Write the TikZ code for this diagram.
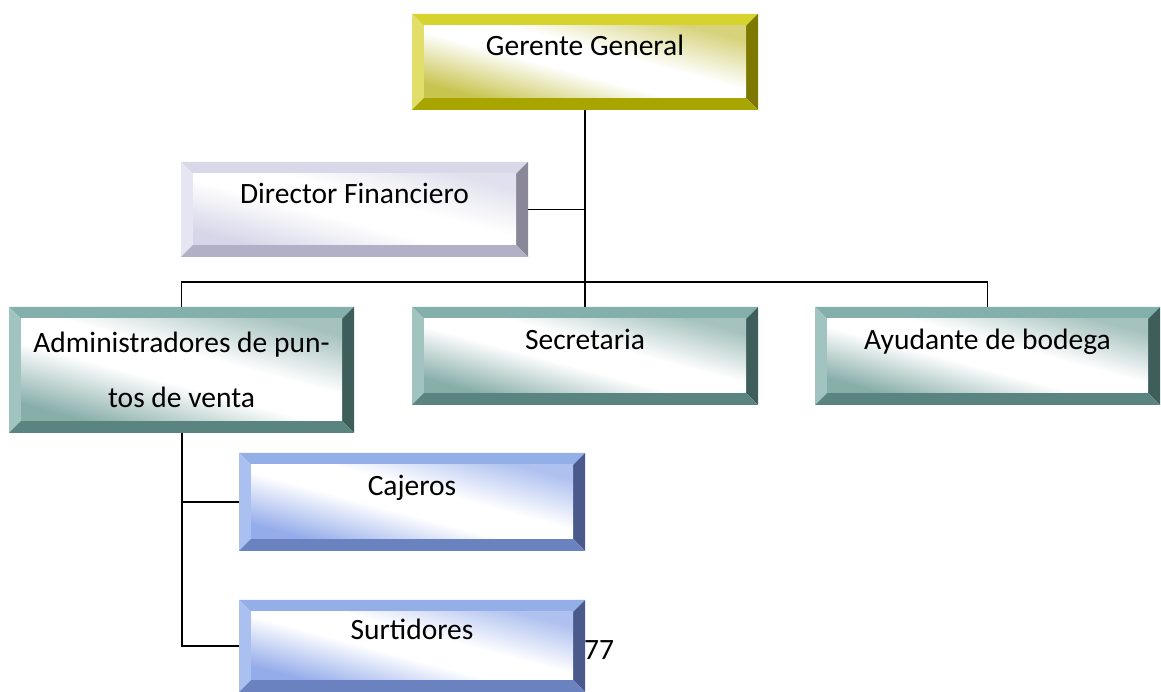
\documentclass[tikz,border=0pt]{standalone}
\usepackage{fontspec}
\setmainfont{Carlito}
\usetikzlibrary{positioning}

% bevel colours: top, left, right, bottom, face tint
\definecolor{goldT}{HTML}{D6D22E}
\definecolor{goldL}{HTML}{E2DE6A}
\definecolor{goldR}{HTML}{7C7800}
\definecolor{goldB}{HTML}{A9A500}
\definecolor{goldF}{HTML}{C8C450}
\definecolor{lilaT}{HTML}{D8D8E8}
\definecolor{lilaL}{HTML}{E6E6F2}
\definecolor{lilaR}{HTML}{8A8898}
\definecolor{lilaB}{HTML}{B2B0C6}
\definecolor{lilaF}{HTML}{D6D6E8}
\definecolor{tealT}{HTML}{84B0AC}
\definecolor{tealL}{HTML}{A2C4C0}
\definecolor{tealR}{HTML}{3E5E5C}
\definecolor{tealB}{HTML}{5A8480}
\definecolor{tealF}{HTML}{88AEAA}
\definecolor{blueT}{HTML}{94AEE8}
\definecolor{blueL}{HTML}{AAC0F0}
\definecolor{blueR}{HTML}{4A5A8C}
\definecolor{blueB}{HTML}{6A82C0}
\definecolor{blueF}{HTML}{94ACEA}

\colorlet{facetint}{white}
\pgfdeclareverticalshading[facetint]{bevelface}{100bp}{%
  color(0bp)=(facetint); color(25bp)=(facetint); color(45bp)=(white);
  color(56bp)=(white); color(75bp)=(facetint!75!white); color(100bp)=(facetint!75!white)}

\def\pb{path picture bounding box}
\def\bev{12pt}

\tikzset{
  bevelbox/.style n args={5}{
    inner sep=0pt, align=center,
    path picture={
      \fill[#1] (\pb.north west) -- (\pb.north east) -- ([shift={(-\bev,-\bev)}]\pb.north east) -- ([shift={(\bev,-\bev)}]\pb.north west) -- cycle;
      \fill[#2] (\pb.north west) -- ([shift={(\bev,-\bev)}]\pb.north west) -- ([shift={(\bev,\bev)}]\pb.south west) -- (\pb.south west) -- cycle;
      \fill[#3] (\pb.north east) -- ([shift={(-\bev,-\bev)}]\pb.north east) -- ([shift={(-\bev,\bev)}]\pb.south east) -- (\pb.south east) -- cycle;
      \fill[#4] (\pb.south west) -- ([shift={(\bev,\bev)}]\pb.south west) -- ([shift={(-\bev,\bev)}]\pb.south east) -- (\pb.south east) -- cycle;
      \colorlet{facetint}{#5}
      \shade[shading=bevelface, shading angle=-15]
        ([shift={(\bev,-\bev)}]\pb.north west) rectangle ([shift={(-\bev,\bev)}]\pb.south east);
    }
  },
  goldbox/.style={bevelbox={goldT}{goldL}{goldR}{goldB}{goldF}},
  lilabox/.style={bevelbox={lilaT}{lilaL}{lilaR}{lilaB}{lilaF}},
  tealbox/.style={bevelbox={tealT}{tealL}{tealR}{tealB}{tealF}},
  bluebox/.style={bevelbox={blueT}{blueL}{blueR}{blueB}{blueF}},
  onerow/.style={text height=20pt, text depth=32pt},
  link/.style={line width=1.5pt},
  trunk/.style={line width=2pt}
}

\begin{document}
\begin{tikzpicture}[x=1pt, y=1pt, font=\fontsize{29.5}{35}\selectfont]
    \useasboundingbox (0,0) rectangle (1161,692);

    % Top levels
    \node[goldbox, onerow, minimum width=346pt, minimum height=96pt] (gerente) at (585,630) {Gerente General};
    \node[lilabox, onerow, minimum width=347pt, minimum height=95pt] (director) at (354.5,482.5) {Director Financiero};

    % Second row
    \node[tealbox, minimum width=345pt, minimum height=126pt, font=\fontsize{29.5}{55}\selectfont] (admin) at (181.5,322) {Administradores de pun-\\tos de venta};
    \node[tealbox, onerow, minimum width=346pt, minimum height=98pt] (secretaria) at (585,336) {Secretaria};
    \node[tealbox, onerow, minimum width=345pt, minimum height=98pt] (ayudante) at (987.5,336) {Ayudante de bodega};

    % Under the points of sale
    \node[bluebox, onerow, minimum width=346pt, minimum height=98pt] (cajeros) at (412,190) {Cajeros};
    \node[bluebox, onerow, minimum width=346pt, minimum height=92pt] (surtidores) at (412,46) {Surtidores};

    \node (pagenum) at (599,42) {77};

    % Connections
    \coordinate (bus) at (585,410);
    \draw[trunk] (gerente.south) -- (secretaria.north);
    \draw[link] (director.east) -- (director.east -| gerente.south);
    \draw[link] (admin.north) |- (bus) -| (ayudante.north);
    \draw[trunk] (admin.south) |- (cajeros.west);
    \draw[trunk] (admin.south) |- (surtidores.west);
\end{tikzpicture}
\end{document}
